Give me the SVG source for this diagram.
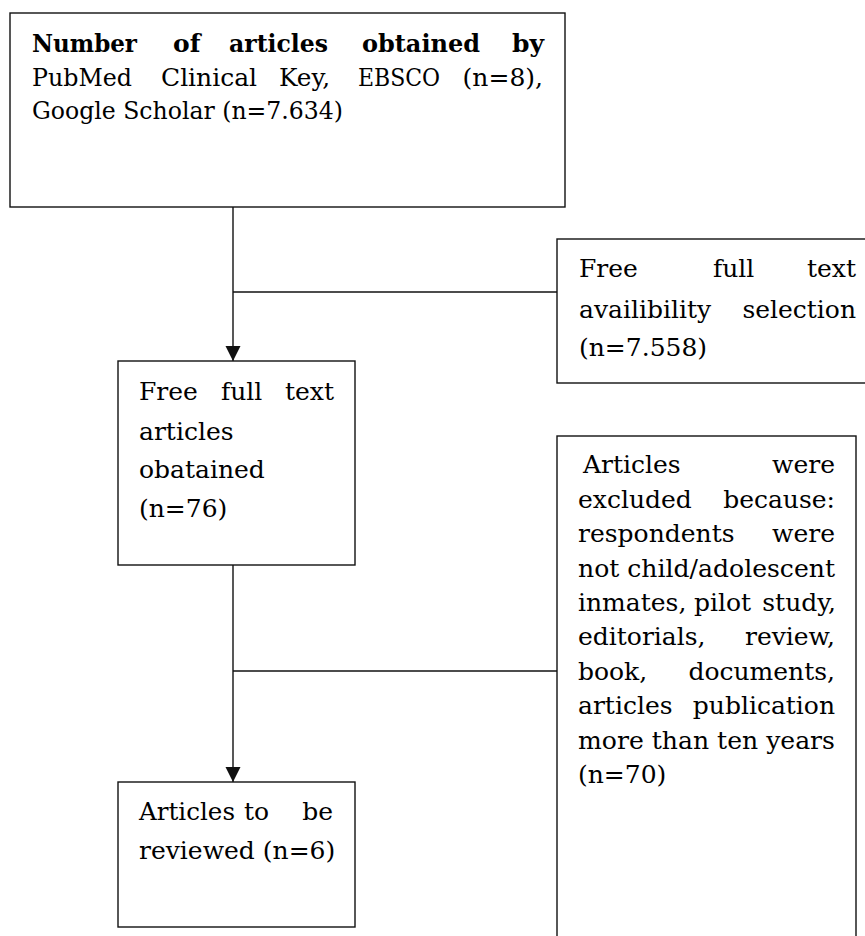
<svg xmlns="http://www.w3.org/2000/svg" width="865" height="936" viewBox="0 0 865 936">
<style>
.box{fill:#fff;stroke:#111;stroke-width:1.4}
.t{font-family:"DejaVu Serif","Liberation Serif",serif;font-size:25px;fill:#000}
.b{font-weight:bold}
.e{text-anchor:end}
.c{stroke:#111;stroke-width:1.4;fill:none}
</style>
<defs>
<marker id="arr" markerWidth="16" markerHeight="16" refX="15" refY="8" orient="auto" markerUnits="userSpaceOnUse">
<path d="M0,0.5 L15,8 L0,15.5 Z" fill="#111"/>
</marker>
</defs>
<rect width="865" height="936" fill="#fff"/>
<g id="connectors">
<line class="c" x1="233" y1="207" x2="233" y2="361" marker-end="url(#arr)"/>
<line class="c" x1="233" y1="292" x2="557" y2="292"/>
<line class="c" x1="233" y1="565" x2="233" y2="782" marker-end="url(#arr)"/>
<line class="c" x1="233" y1="671" x2="557" y2="671"/>
</g>
<g id="n1">
<rect class="box" x="10" y="13" width="555" height="194"/>
<text class="t b" x="32" y="52" textLength="105" lengthAdjust="spacingAndGlyphs">Number</text>
<text class="t b" x="173" y="52">of</text>
<text class="t b" x="229" y="52" textLength="99" lengthAdjust="spacingAndGlyphs">articles</text>
<text class="t b" x="362" y="52" textLength="118" lengthAdjust="spacingAndGlyphs">obtained</text>
<text class="t b e" x="544" y="52">by</text>
<text class="t" x="32" y="86" textLength="100" lengthAdjust="spacingAndGlyphs">PubMed</text>
<text class="t" x="161" y="86">Clinical</text>
<text class="t" x="279" y="86" textLength="51" lengthAdjust="spacingAndGlyphs">Key,</text>
<text class="t" x="358" y="86" textLength="82" lengthAdjust="spacingAndGlyphs">EBSCO</text>
<text class="t e" x="543" y="86">(n=8),</text>
<text class="t" x="32" y="119" textLength="311" lengthAdjust="spacingAndGlyphs">Google Scholar (n=7.634)</text>
</g>
<g id="n2">
<rect class="box" x="557" y="239" width="320" height="144"/>
<text class="t" x="579" y="277">Free</text>
<text class="t" x="713" y="277">full</text>
<text class="t e" x="856" y="277">text</text>
<text class="t" x="579" y="318">availibility</text>
<text class="t e" x="856" y="318">selection</text>
<text class="t" x="579" y="356">(n=7.558)</text>
</g>
<g id="n3">
<rect class="box" x="118" y="361" width="237" height="204"/>
<text class="t" x="139" y="400">Free</text>
<text class="t" x="221" y="400">full</text>
<text class="t e" x="334" y="400">text</text>
<text class="t" x="139" y="440">articles</text>
<text class="t" x="139" y="478">obatained</text>
<text class="t" x="139" y="517">(n=76)</text>
</g>
<g id="n4">
<rect class="box" x="557" y="436" width="299" height="520"/>
<text class="t" x="583" y="473">Articles</text>
<text class="t e" x="835" y="473">were</text>
<text class="t" x="578" y="508">excluded</text>
<text class="t e" x="835" y="508">because:</text>
<text class="t" x="578" y="542">respondents</text>
<text class="t e" x="835" y="542">were</text>
<text class="t" x="578" y="577" textLength="257" lengthAdjust="spacingAndGlyphs">not child/adolescent</text>
<text class="t" x="578" y="611">inmates,</text>
<text class="t" x="694" y="611">pilot</text>
<text class="t e" x="836" y="611">study,</text>
<text class="t" x="578" y="645">editorials,</text>
<text class="t e" x="835" y="645">review,</text>
<text class="t" x="578" y="680">book,</text>
<text class="t e" x="835" y="680">documents,</text>
<text class="t" x="578" y="714">articles</text>
<text class="t e" x="835" y="714">publication</text>
<text class="t" x="578" y="749" textLength="257" lengthAdjust="spacingAndGlyphs">more than ten years</text>
<text class="t" x="578" y="783">(n=70)</text>
</g>
<g id="n5">
<rect class="box" x="118" y="782" width="237" height="145"/>
<text class="t" x="139" y="820" textLength="96" lengthAdjust="spacingAndGlyphs">Articles</text>
<text class="t" x="244" y="820">to</text>
<text class="t e" x="333" y="820">be</text>
<text class="t" x="139" y="859">reviewed (n=6)</text>
</g>
</svg>
